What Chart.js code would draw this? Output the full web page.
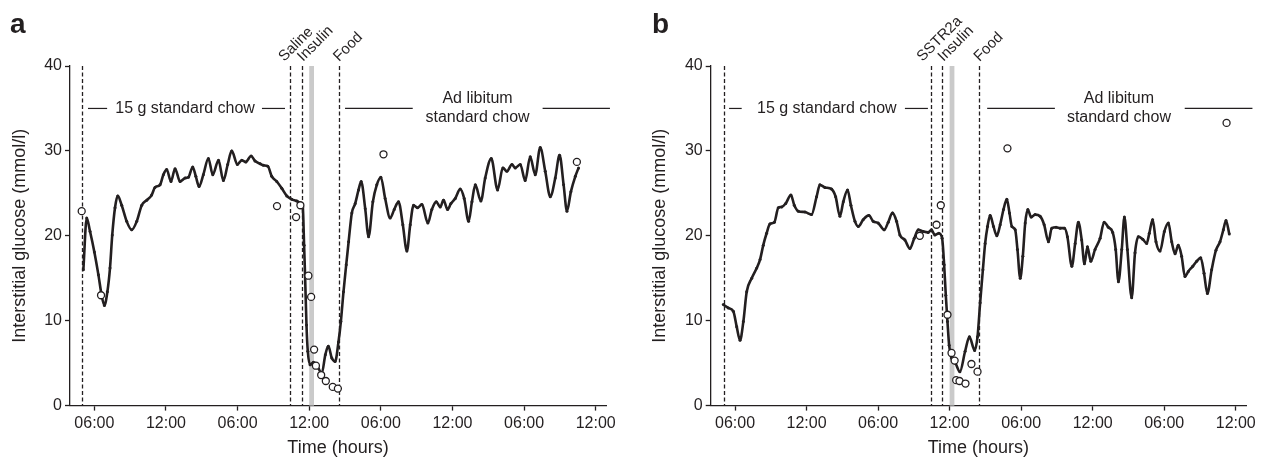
<!DOCTYPE html>
<html>
<head>
<meta charset="utf-8">
<script src="https://cdn.jsdelivr.net/npm/chart.js@4.4.1/dist/chart.umd.min.js"></script>
<style>
html, body { margin: 0; padding: 0; background: #fff; }
#wrap { position: relative; width: 1262px; height: 459px; }
canvas { position: absolute; top: 0; }
#chartA { left: 0; }
#chartB { left: 631px; }
</style>
</head>
<body>
<div id="wrap">
  <canvas id="chartA" width="631" height="459"></canvas>
  <canvas id="chartB" width="631" height="459"></canvas>
</div>
<script>
// hours counted from midnight of day 1, glucose in mmol/l
var tickHours = [6, 12, 18, 24, 30, 36, 42, 48];
var yTickValues = [0, 10, 20, 30, 40];

// panel a : saline
var cgmA_t = [5.08, 5.36, 5.64, 6.0, 6.34, 6.61, 6.84, 7.09, 7.31, 7.5, 7.73, 7.96, 8.29, 8.71, 9.13, 9.55, 9.97, 10.39, 10.8, 11.08,
  11.5, 11.78, 12.06, 12.42, 12.76, 13.18, 13.6, 13.88, 14.24, 14.5, 14.77, 15.13, 15.55, 15.92, 16.4, 16.81, 17.17, 17.51, 17.98, 18.35,
  18.68, 19.13, 19.46, 19.88, 20.16, 20.53, 20.86, 21.28, 21.7, 22.12, 22.54, 22.96, 23.32, 23.46, 23.57, 23.65, 23.77, 23.88, 24.07, 24.35,
  24.63, 25.05, 25.35, 25.6, 25.89, 26.17, 26.45, 26.65, 26.87, 27.1, 27.3, 27.57, 27.85, 28.13, 28.35, 28.69, 28.97, 29.33, 29.66, 30.0,
  30.36, 30.78, 31.12, 31.48, 31.84, 32.18, 32.46, 32.74, 33.07, 33.44, 33.94, 34.27, 34.64, 34.97, 35.25, 35.59, 35.87, 36.23, 36.65, 36.98,
  37.35, 37.63, 37.91, 38.38, 38.74, 39.25, 39.78, 40.22, 40.56, 40.98, 41.26, 41.68, 42.09, 42.51, 42.93, 43.35, 43.77, 44.19, 44.61, 44.97,
  45.31, 45.59, 45.92, 46.29, 46.56];
var cgmA_v = [16.0, 22.1, 20.5, 18.1, 15.4, 13.0, 11.8, 13.4, 16.2, 20.1, 23.3, 24.7, 23.6, 21.7, 20.7, 21.7, 23.6, 24.2, 24.8, 25.7,
  26.0, 27.2, 27.8, 26.4, 27.9, 26.4, 26.8, 26.9, 28.1, 27.0, 25.8, 27.2, 29.1, 27.2, 28.9, 26.5, 28.4, 30.0, 28.4, 28.9,
  28.7, 29.4, 28.8, 28.5, 28.3, 28.2, 27.0, 26.4, 25.6, 24.7, 24.3, 24.1, 23.8, 23.4, 18.9, 15.4, 9.5, 6.4, 4.8, 5.1,
  4.8, 3.8, 6.0, 7.0, 5.6, 5.2, 7.5, 9.9, 13.4, 16.6, 19.3, 22.7, 23.8, 25.4, 26.4, 23.2, 19.9, 24.0, 26.0, 26.9,
  24.4, 22.1, 23.1, 24.0, 21.3, 18.2, 21.3, 23.6, 23.3, 23.7, 21.5, 23.1, 24.0, 23.4, 24.2, 23.1, 23.8, 24.4, 25.5, 24.4,
  21.7, 24.0, 26.0, 24.1, 26.8, 29.1, 25.4, 28.0, 27.6, 28.4, 28.0, 28.4, 26.5, 29.3, 27.2, 30.4, 27.6, 24.6, 26.8, 29.5,
  26.0, 22.9, 25.2, 27.0, 28.0];
var refA_t = [4.94, 6.56, 21.3, 22.9, 23.26, 23.93, 24.16, 24.41, 24.56, 25.0, 25.39, 25.97, 26.4, 30.22, 46.42];
var refA_v = [22.9, 13.0, 23.5, 22.2, 23.6, 15.3, 12.8, 6.6, 4.7, 3.6, 2.9, 2.2, 2.0, 29.6, 28.7];
var eventHoursA = [5.0, 22.4, 23.4, 26.5];
var eventNamesA = ['', 'Saline', 'Insulin', 'Food'];

// panel b : SSTR2a
var cgmB_t = [5.02, 5.44, 5.86, 6.14, 6.42, 6.7, 6.98, 7.4, 7.82, 8.1, 8.37, 8.65, 8.93, 9.3, 9.63, 9.91, 10.25, 10.69, 10.97, 11.31,
  11.87, 12.42, 12.84, 13.12, 13.54, 14.1, 14.44, 14.8, 15.08, 15.44, 15.72, 16.06, 16.34, 16.75, 17.23, 17.59, 18.01, 18.51, 18.85, 19.21,
  19.55, 19.83, 20.25, 20.67, 21.03, 21.37, 21.79, 22.2, 22.48, 22.76, 23.1, 23.37, 23.54, 23.68, 23.82, 23.96, 24.16, 24.49, 24.86, 25.3,
  25.66, 26.1, 26.34, 26.56, 26.79, 26.98, 27.18, 27.4, 27.68, 27.96, 28.24, 28.52, 28.8, 29.02, 29.22, 29.5, 29.69, 29.92, 30.14, 30.34,
  30.56, 30.84, 31.17, 31.59, 31.93, 32.29, 32.57, 32.93, 33.27, 33.63, 33.88, 34.25, 34.53, 34.8, 35.08, 35.31, 35.56, 35.84, 36.2, 36.62,
  36.96, 37.32, 37.68, 37.93, 38.16, 38.44, 38.66, 38.91, 39.27, 39.55, 39.83, 40.2, 40.53, 40.75, 41.03, 41.31, 41.65, 42.01, 42.35, 42.63,
  42.91, 43.18, 43.46, 43.74, 44.02, 44.39, 44.72, 45.06, 45.34, 45.62, 45.98, 46.34, 46.68, 46.96, 47.18, 47.46];
var cgmB_v = [11.9, 11.5, 11.1, 9.3, 7.7, 9.9, 13.4, 15.0, 16.2, 17.2, 18.9, 20.3, 21.4, 21.6, 23.3, 23.4, 23.8, 24.8, 23.6, 22.9,
  22.8, 22.5, 24.6, 26.0, 25.7, 25.5, 24.6, 22.3, 24.0, 25.4, 23.6, 21.7, 21.1, 21.9, 22.4, 21.7, 21.5, 20.7, 21.6, 22.7,
  21.7, 20.1, 19.5, 18.5, 19.7, 20.7, 20.5, 20.4, 20.7, 20.1, 20.3, 19.7, 16.6, 13.0, 9.9, 7.1, 5.6, 5.0, 4.0, 6.4,
  8.1, 6.5, 8.1, 12.1, 16.0, 19.1, 21.1, 22.4, 21.1, 20.0, 21.3, 23.1, 24.3, 22.7, 21.1, 20.7, 18.4, 15.0, 17.6, 21.5,
  23.1, 22.2, 22.5, 22.3, 21.3, 19.3, 20.9, 21.0, 20.9, 20.9, 19.9, 16.4, 19.1, 21.6, 19.5, 16.7, 18.7, 17.0, 18.4, 19.7,
  21.6, 21.0, 20.4, 18.4, 14.6, 18.4, 22.2, 18.4, 12.7, 18.0, 19.9, 19.6, 19.1, 20.3, 21.9, 19.3, 18.2, 20.5, 21.5, 19.3,
  17.9, 18.9, 17.6, 15.2, 15.8, 16.4, 17.0, 17.4, 15.6, 13.2, 16.0, 18.3, 19.3, 20.7, 21.8, 20.2];
var refB_t = [21.5, 22.9, 23.26, 23.82, 24.16, 24.42, 24.55, 24.83, 25.33, 25.83, 26.34, 28.85, 47.23];
var refB_v = [20.0, 21.3, 23.6, 10.7, 6.2, 5.3, 3.0, 2.9, 2.6, 4.9, 4.0, 30.3, 33.3];
var eventHoursB = [5.05, 22.4, 23.4, 26.5];
var eventNamesB = ['', 'SSTR2a', 'Insulin', 'Food'];

var insulinBand = [24.0, 24.4];

var ink = '#231f20';
var fontFam = '"Liberation Sans", Arial, Helvetica, sans-serif';

function pts(t, v) {
  return t.map(function (x, i) { return { x: x, y: v[i] }; });
}

var markers = {
  id: 'markers',
  beforeDatasetsDraw: function (chart, args, opts) {
    var x = chart.scales.x, y = chart.scales.y, ctx = chart.ctx;
    ctx.save();
    var x0 = x.getPixelForValue(opts.band[0]), x1 = x.getPixelForValue(opts.band[1]);
    ctx.fillStyle = '#cacaca';
    ctx.fillRect(x0, y.top, x1 - x0, y.bottom - y.top);
    ctx.strokeStyle = ink;
    ctx.lineWidth = 1.3;
    ctx.setLineDash([4, 2.5]);
    opts.hours.forEach(function (h) {
      var px = Math.round(x.getPixelForValue(h)) + 0.5;
      ctx.beginPath();
      ctx.moveTo(px, y.top);
      ctx.lineTo(px, y.bottom);
      ctx.stroke();
    });
    ctx.restore();
  },
  afterDraw: function (chart, args, opts) {
    var x = chart.scales.x, y = chart.scales.y, ctx = chart.ctx;
    ctx.save();
    ctx.fillStyle = ink;
    ctx.strokeStyle = ink;

    // panel letter
    ctx.font = 'bold 28px ' + fontFam;
    ctx.textAlign = 'left';
    ctx.textBaseline = 'alphabetic';
    ctx.fillText(opts.letter, opts.letterX, 33);

    // slanted event names
    ctx.font = '15px ' + fontFam;
    opts.hours.forEach(function (h, i) {
      if (!opts.names[i]) return;
      ctx.save();
      ctx.translate(x.getPixelForValue(h) + opts.nameShift[i], y.top - 4);
      ctx.rotate(-Math.PI / 4);
      ctx.fillText(opts.names[i], 0, 0);
      ctx.restore();
    });

    // feeding periods
    ctx.font = '16px ' + fontFam;
    ctx.textAlign = 'center';
    ctx.textBaseline = 'middle';
    ctx.lineWidth = 1.2;
    var ly = y.getPixelForValue(35);
    opts.feedLines.forEach(function (s) {
      ctx.beginPath();
      ctx.moveTo(x.getPixelForValue(s[0]), ly);
      ctx.lineTo(x.getPixelForValue(s[1]), ly);
      ctx.stroke();
    });
    ctx.fillText('15 g standard chow', x.getPixelForValue(opts.chowText), ly);
    ctx.fillText('Ad libitum', x.getPixelForValue(opts.adlibText), ly - 9.5);
    ctx.fillText('standard chow', x.getPixelForValue(opts.adlibText), ly + 9.5);
    ctx.restore();
  }
};

function makeChart(id, cgmT, cgmV, refT, refV, evHours, evNames, lay) {
  return new Chart(document.getElementById(id), {
    type: 'line',
    data: {
      datasets: [{
        type: 'scatter',
        data: pts(refT, refV),
        pointRadius: 3.5,
        pointBorderWidth: 1.3,
        pointBorderColor: ink,
        pointBackgroundColor: '#ffffff'
      }, {
        data: pts(cgmT, cgmV),
        borderColor: ink,
        borderWidth: 2.6,
        cubicInterpolationMode: 'monotone',
        pointRadius: 1.5,
        pointBorderWidth: 0,
        pointBackgroundColor: ink,
        fill: false
      }]
    },
    options: {
      responsive: false,
      animation: false,
      layout: { padding: { left: 0, top: 66, right: lay.right, bottom: 0 } },
      plugins: {
        legend: { display: false },
        tooltip: { enabled: false },
        markers: {
          letter: lay.letter,
          letterX: lay.letterX,
          band: insulinBand,
          hours: evHours,
          names: evNames,
          nameShift: lay.nameShift,
          feedLines: lay.feedLines,
          chowText: lay.chowText,
          adlibText: lay.adlibText
        }
      },
      scales: {
        x: {
          type: 'linear',
          min: 3.96,
          max: 48.86,
          afterBuildTicks: function (s) { s.ticks = tickHours.map(function (v) { return { value: v }; }); },
          afterFit: function (s) { s.height = 459 - 405.6; },
          border: { display: true, color: ink, width: 1.3 },
          grid: { drawOnChartArea: false, drawTicks: true, tickLength: 5, tickColor: ink, tickWidth: 1.3 },
          ticks: {
            color: ink,
            padding: 3,
            maxRotation: 0,
            font: { family: fontFam, size: 16 },
            callback: function (v) {
              var h = v % 12 === 0 ? 12 : v % 12;
              return (h < 10 ? '0' : '') + h + ':00';
            }
          },
          title: {
            display: true,
            text: 'Time (hours)',
            color: ink,
            padding: { top: 0, bottom: 0 },
            font: { family: fontFam, size: 18 }
          }
        },
        y: {
          min: 0,
          max: 40,
          afterBuildTicks: function (s) { s.ticks = yTickValues.map(function (v) { return { value: v }; }); },
          afterFit: function (s) { s.width = lay.yWidth; },
          border: { display: true, color: ink, width: 1.3 },
          grid: { drawOnChartArea: false, drawTicks: true, tickLength: 5, tickColor: ink, tickWidth: 1.3 },
          ticks: { color: ink, padding: 3, font: { family: fontFam, size: 16 } },
          title: {
            display: true,
            text: 'Interstitial glucose (mmol/l)',
            color: ink,
            padding: { top: lay.titlePad, bottom: 0 },
            font: { family: fontFam, size: 18 }
          }
        }
      }
    },
    plugins: [markers]
  });
}

makeChart('chartA', cgmA_t, cgmA_v, refA_t, refA_v, eventHoursA, eventNamesA, {
  letter: 'a', letterX: 10, right: 25, yWidth: 70, titlePad: 9,
  nameShift: [0, -6, 1, 0],
  feedLines: [[5.47, 7.07], [20.04, 21.97], [27.0, 32.67], [43.55, 49.19]],
  chowText: 13.6, adlibText: 38.1
});
makeChart('chartB', cgmB_t, cgmB_v, refB_t, refB_v, eventHoursB, eventNamesB, {
  letter: 'b', letterX: 21, right: 16, yWidth: 79.7, titlePad: 18,
  nameShift: [0, -8, 1, 0],
  feedLines: [[5.5, 6.56], [20.25, 22.18], [27.15, 32.83], [43.72, 49.4]],
  chowText: 13.7, adlibText: 38.2
});
</script>
</body>
</html>
